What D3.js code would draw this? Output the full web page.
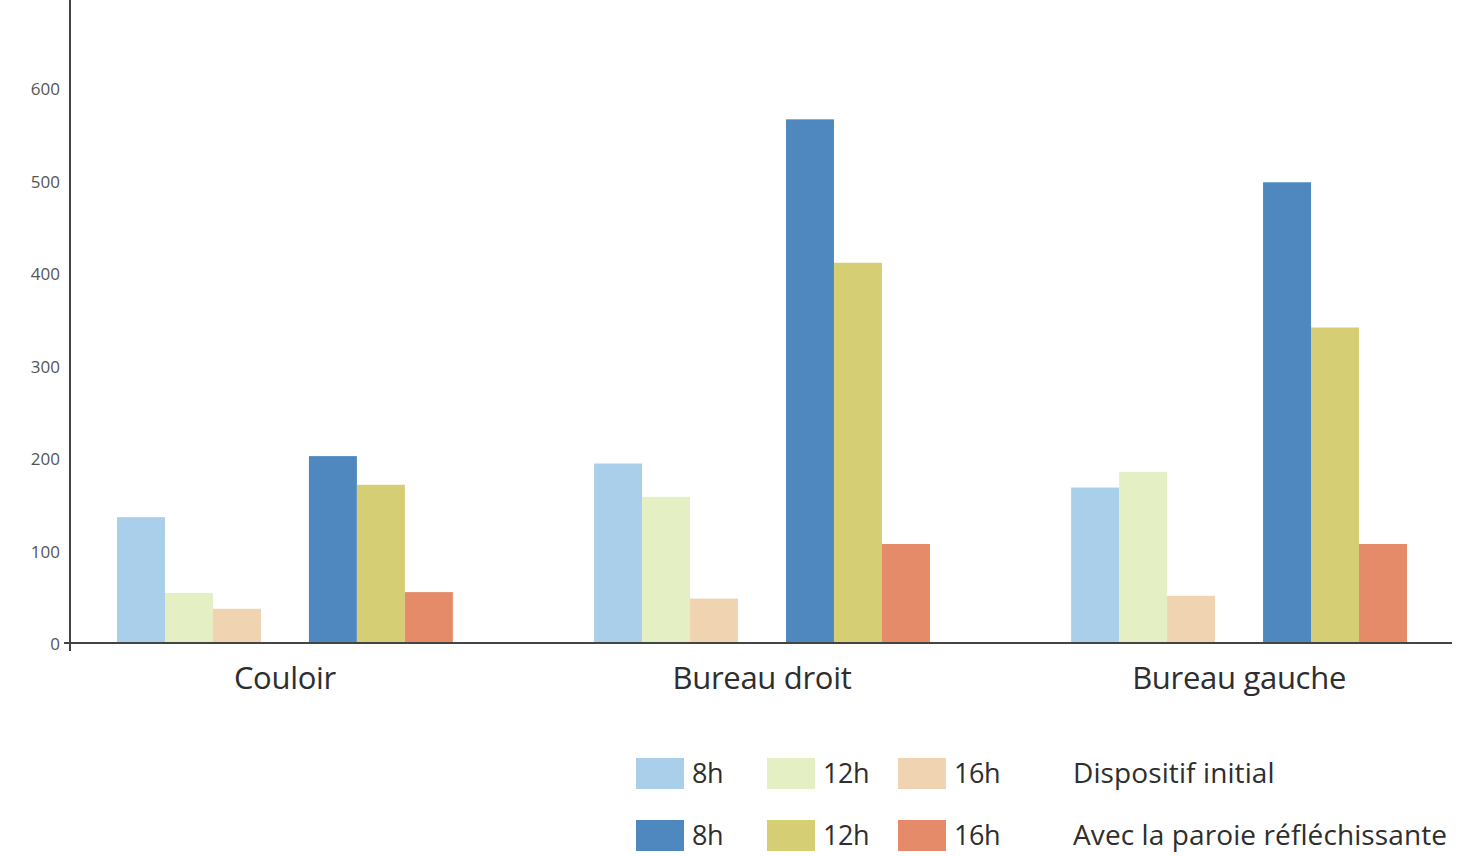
<!DOCTYPE html>
<html>
<head>
<meta charset="utf-8">
<script src="https://cdn.jsdelivr.net/npm/d3@7"></script>
<style>
  html, body { margin: 0; padding: 0; background: #ffffff; }
  svg { display: block; }
  text { font-family: "Open Sans", "Noto Sans", sans-serif; }
</style>
</head>
<body>
<svg id="chart" width="1468" height="856"></svg>
<script>
// Rooms measured
const categories = ["Couloir", "Bureau droit", "Bureau gauche"];
// Hours of measurement
const hours = ["8h", "12h", "16h"];
// Initial setup, per room: 8h, 12h, 16h
const initial8h  = [136, 194, 168];
const initial12h = [54, 158, 185];
const initial16h = [37, 48, 51];
// With the reflective wall, per room: 8h, 12h, 16h
const reflect8h  = [202, 566, 498];
const reflect12h = [171, 411, 341];
const reflect16h = [55, 107, 107];
// Y axis tick labels
const yTicks = [0, 100, 200, 300, 400, 500, 600];
// Legend row names
const setups = ["Dispositif initial", "Avec la paroie réfléchissante"];

const colorsInitial = ["#a9cfea", "#e4f0c4", "#f0d3b1"];
const colorsReflect = ["#4f88be", "#d5ce74", "#e68b6a"];

const svg = d3.select("#chart");

const axisX = 70, baseY = 643;
const y = d3.scaleLinear().domain([0, 695]).range([baseY, 0]);

const x0 = d3.scaleBand().domain(categories).range([117, 1407]).paddingInner(0.296).paddingOuter(0);
// 7 slots per group: 3 initial bars, an empty slot, 3 reflective bars
const slots = ["i8", "i12", "i16", "gap", "r8", "r12", "r16"];
const x1 = d3.scaleBand().domain(slots).range([0, x0.bandwidth()]).padding(0);

const series = [
  { key: "i8",  values: initial8h,  color: colorsInitial[0] },
  { key: "i12", values: initial12h, color: colorsInitial[1] },
  { key: "i16", values: initial16h, color: colorsInitial[2] },
  { key: "r8",  values: reflect8h,  color: colorsReflect[0] },
  { key: "r12", values: reflect12h, color: colorsReflect[1] },
  { key: "r16", values: reflect16h, color: colorsReflect[2] }
];

const bars = [];
series.forEach(s => s.values.forEach((v, i) => bars.push({ cat: categories[i], key: s.key, value: v, color: s.color })));

svg.append("g").selectAll("rect").data(bars).join("rect")
  .attr("x", d => x0(d.cat) + x1(d.key))
  .attr("width", x1.bandwidth())
  .attr("y", d => y(d.value))
  .attr("height", d => baseY - y(d.value))
  .attr("fill", d => d.color);

// Y axis
const yAxis = svg.append("g").attr("transform", `translate(${axisX},0)`)
  .call(d3.axisLeft(y).tickValues(yTicks).tickSize(0).tickPadding(10));
yAxis.select(".domain").remove();
yAxis.selectAll("text").attr("font-size", 17).attr("fill", "#555").attr("dy", "0.4em");

svg.append("line").attr("x1", axisX).attr("x2", axisX).attr("y1", 0).attr("y2", baseY + 8)
  .attr("stroke", "#444").attr("stroke-width", 2);
svg.append("line").attr("x1", axisX - 6).attr("x2", 1452).attr("y1", baseY).attr("y2", baseY)
  .attr("stroke", "#444").attr("stroke-width", 2);

// Category labels
svg.append("g").selectAll("text").data(categories).join("text")
  .attr("x", d => x0(d) + x0.bandwidth() / 2)
  .attr("y", 689)
  .attr("text-anchor", "middle")
  .attr("font-size", 31)
  .attr("fill", "#2e2e2e")
  .attr("letter-spacing", "-0.3")
  .text(d => d);

// Legend
const legend = svg.append("g");
const swX = [636, 767, 898];
const rowY = [758, 820];
[colorsInitial, colorsReflect].forEach((cols, r) => {
  cols.forEach((c, i) => {
    legend.append("rect").attr("x", swX[i]).attr("y", rowY[r]).attr("width", 48).attr("height", 31).attr("fill", c);
    legend.append("text").attr("x", swX[i] + 56).attr("y", rowY[r] + 25)
      .attr("font-size", 27).attr("fill", "#2e2e2e").attr("letter-spacing", "-0.5").text(hours[i]);
  });
  legend.append("text").attr("x", 1073).attr("y", rowY[r] + 25)
    .attr("font-size", 28).attr("fill", "#2e2e2e").attr("letter-spacing", "0.1").text(setups[r]);
});
</script>
</body>
</html>
